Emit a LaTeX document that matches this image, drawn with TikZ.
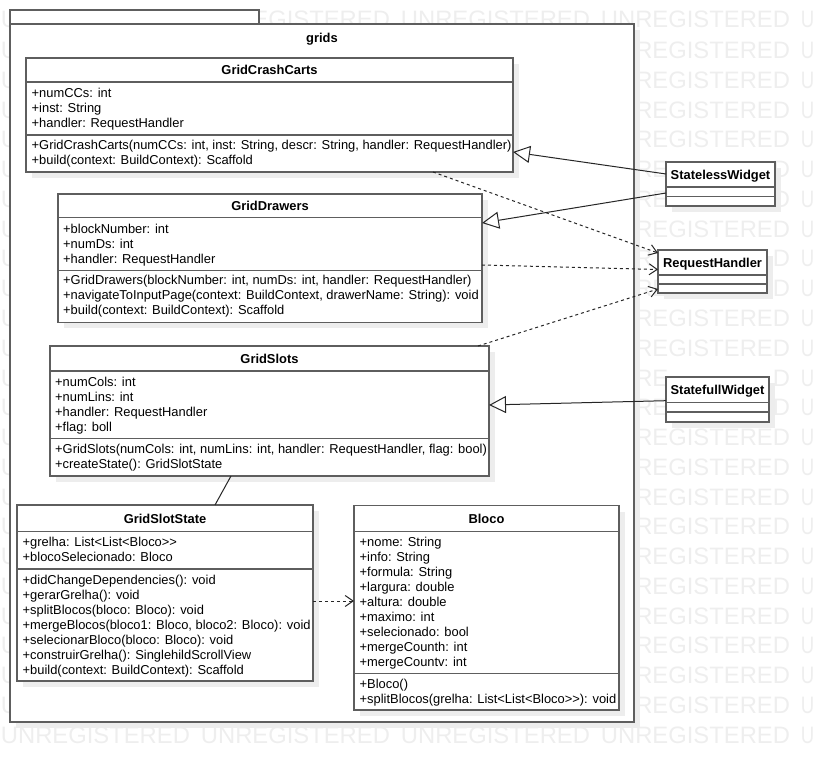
\documentclass[tikz,border=0pt]{standalone}
\usepackage{fontspec}
\setmainfont{Liberation Sans}
\usetikzlibrary{arrows.meta,calc,shadows}
\definecolor{lc}{HTML}{5E5E5E}
\definecolor{shc}{HTML}{EDEDED}
\definecolor{wmc}{HTML}{EEEEEE}
\tikzset{
 box/.style={draw=lc, fill=white, line width=1.3pt, inner sep=0pt, outer sep=0pt, anchor=north west,
   general shadow={fill=shc, shadow xshift=6pt, shadow yshift=-6pt}},
 plainbox/.style={draw=lc, fill=white, line width=1.3pt, inner sep=0pt, outer sep=0pt, anchor=north west},
 divline/.style={draw=lc, line width=1.3pt},
 ttl/.style={font=\fontsize{12.9}{15}\selectfont\bfseries, inner sep=0pt, anchor=base},
 txt/.style={font=\fontsize{12.9}{15}\selectfont, inner sep=0pt, anchor=base west},
 wm/.style={font=\fontsize{23.8}{24}\selectfont, text=wmc, inner sep=0pt, anchor=base west},
 wmu/.style={wm, xscale=0.78},
 gen/.style={draw=black!85, line width=1pt, -{Triangle[open, length=17pt, width=17pt]}},
 dep/.style={draw=black!85, line width=1pt, dash pattern=on 3pt off 3pt, -{Straight Barb[length=8pt, width=11pt]}},
 assoc/.style={draw=black!85, line width=1pt},
}
\newcommand\clsrows[4]{%
  \foreach \t [count=\i from 0] in {#4} \node[txt] (#1-\i) at (#2, #3+15*\i) {\t};}
\begin{document}
\begin{tikzpicture}[x=1pt,y=-1pt]
\clip (0,0) rectangle (815,762);
% watermark (only the parts that show)
\node[wm] (wmL-0) at (0.7, 27.5) {U};
\node[wmu] (wmR-0) at (800.7, 27.5) {U};
\foreach \r in {1,...,23}
  \node[wm] (wmL-\r) at (0.7, 28.8+29.77*\r) {U};
\foreach \r in {1,...,24}
  \node[wmu] (wmR-\r) at (800.7, 28.8+29.77*\r) {U};
\foreach \r in {1,2,3,4,6,7,9,10,11,13,14,15,16,17,18,19,20,21,22,23}
  \node[wm] (wmM-\r) at (635.1, 28.8+29.77*\r) {REGISTERED};
\foreach \r in {5,12} {
  \node[wm] (wmMa-\r) at (635.1, 28.8+29.77*\r) {RE};
  \node[wm] (wmMb-\r) at (772.6, 28.8+29.77*\r) {D};
}
\node[wm] (wmMa-8) at (635.1, 267.0) {R};
\node[wm] (wmMb-8) at (772.6, 267.0) {D};
\foreach \c in {1,2,3} \node[wm] (wmT-\c) at (0.7+200*\c, 27.5) {UNREGISTERED};
\foreach \c in {0,1,2,3} \node[wm] (wmB-\c) at (0.7+200*\c, 743.3) {UNREGISTERED};
% package
\node[plainbox, minimum width=249, minimum height=14] (pkgtab) at (10,10) {};
\node[box, minimum width=624, minimum height=698] (pkg) at (10,24) {};
\node[ttl] (pkg-t) at (322,42.5) {grids};
% GridCrashCarts
\node[box, minimum width=487, minimum height=114] (gcc) at (26,58) {};
\draw[divline] (26,82) -- (513,82);
\draw[divline] (26,135) -- (513,135);
\node[ttl] (gcc-t) at (269.5,74.7) {GridCrashCarts};
\clsrows{gcca}{31.5}{98}{{+numCCs: int},{+inst: String},{+handler: RequestHandler}}
\clsrows{gccm}{31.5}{149.5}{{+GridCrashCarts(numCCs: int, inst: String, descr: String, handler: RequestHandler)},{+build(context: BuildContext): Scaffold}}
% GridDrawers
\node[box, minimum width=424, minimum height=128.5] (gd) at (58,194) {};
\draw[divline] (58,217.5) -- (482,217.5);
\draw[divline] (58,270.5) -- (482,270.5);
\node[ttl] (gd-t) at (270,210.5) {GridDrawers};
\clsrows{gda}{63}{233.5}{{+blockNumber: int},{+numDs: int},{+handler: RequestHandler}}
\clsrows{gdm}{63}{285}{{+GridDrawers(blockNumber: int, numDs: int, handler: RequestHandler)},{+navigateToInputPage(context: BuildContext, drawerName: String): void},{+build(context: BuildContext): Scaffold}}
% GridSlots
\node[box, minimum width=439, minimum height=130] (gs) at (50,346) {};
\draw[divline] (50,371) -- (489,371);
\draw[divline] (50,438.5) -- (489,438.5);
\node[ttl] (gs-t) at (269.5,363.2) {GridSlots};
\clsrows{gsa}{55}{386.5}{{+numCols: int},{+numLins: int},{+handler: RequestHandler},{+flag: boll}}
\clsrows{gsm}{55}{453.5}{{+GridSlots(numCols: int, numLins: int, handler: RequestHandler, flag: bool)},{+createState(): GridSlotState}}
% GridSlotState
\node[box, minimum width=296, minimum height=176] (gss) at (17,505) {};
\draw[divline] (17,531.5) -- (313,531.5);
\draw[divline] (17,569) -- (313,569);
\node[ttl] (gss-t) at (165,523) {GridSlotState};
\clsrows{gssa}{22.5}{546.5}{{+grelha: List<List<Bloco>{}>},{+blocoSelecionado: Bloco}}
\clsrows{gssm}{22.5}{584}{{+didChangeDependencies(): void},{+gerarGrelha(): void},{+splitBlocos(bloco: Bloco): void},{+mergeBlocos(bloco1: Bloco, bloco2: Bloco): void},{+selecionarBloco(bloco: Bloco): void},{+construirGrelha(): SinglehildScrollView},{+build(context: BuildContext): Scaffold}}
% Bloco
\node[box, minimum width=265, minimum height=204.5] (blo) at (354,505.5) {};
\draw[divline] (354,531.5) -- (619,531.5);
\draw[divline] (354,673.3) -- (619,673.3);
\node[ttl] (blo-t) at (486.5,523.2) {Bloco};
\clsrows{bloa}{359.5}{546.5}{{+nome: String},{+info: String},{+formula: String},{+largura: double},{+altura: double},{+maximo: int},{+selecionado: bool},{+mergeCounth: int},{+mergeCountv: int}}
\clsrows{blom}{359.5}{688.5}{{+Bloco()},{+splitBlocos(grelha: List<List<Bloco>{}>): void}}
% StatelessWidget
\node[box, minimum width=109, minimum height=44] (slw) at (666,162) {};
\draw[divline] (666,187) -- (775,187);
\draw[divline] (666,196.5) -- (775,196.5);
\node[ttl] (slw-t) at (720.5,179.2) {StatelessWidget};
% RequestHandler
\node[box, minimum width=109, minimum height=43] (rh) at (658,250) {};
\draw[divline] (658,275) -- (767,275);
\draw[divline] (658,284) -- (767,284);
\node[ttl] (rh-t) at (712.5,267.2) {RequestHandler};
% StatefullWidget
\node[box, minimum width=103, minimum height=45] (sfw) at (666,377) {};
\draw[divline] (666,402.7) -- (769,402.7);
\draw[divline] (666,412) -- (769,412);
\node[ttl] (sfw-t) at (717.5,394.5) {StatefullWidget};
% connectors
\draw[gen] ($(slw.north west)+(0,12)$) -- ($(gcc.north east)+(0,94)$);
\draw[gen] ($(slw.north west)+(0,31)$) -- ($(gd.north east)+(0,29)$);
\draw[gen] ($(sfw.north west)+(0,23.7)$) -- ($(gs.north east)+(0,59)$);
\draw[dep] ($(gcc.south west)+(407,0)$) -- ($(rh.north west)+(0,3)$);
\draw[dep] ($(gd.north east)+(0,71)$) -- ($(rh.north west)+(0,19.5)$);
\draw[dep] ($(gs.north east)+(-11,0)$) -- ($(rh.north west)+(0,39)$);
\draw[assoc] ($(gs.south west)+(181,0)$) -- ($(gss.north west)+(198,0)$);
\draw[dep] ($(gss.north east)+(0,96)$) -- ($(blo.north west)+(0,95.5)$);
\end{tikzpicture}
\end{document}
